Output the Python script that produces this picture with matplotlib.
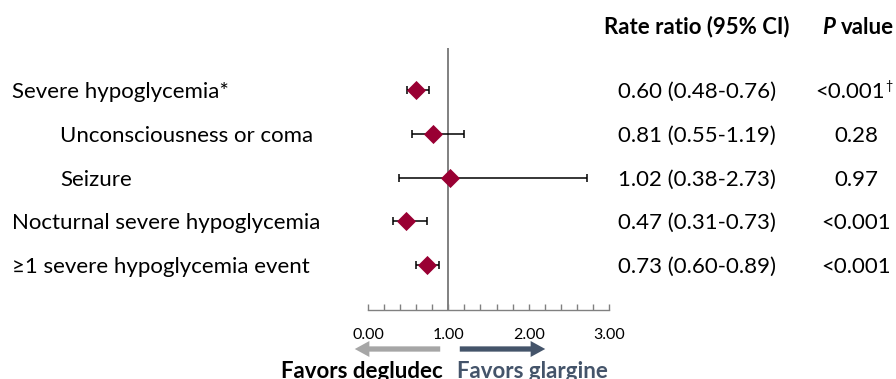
import matplotlib

matplotlib.use("Agg")
import matplotlib.pyplot as plt
from matplotlib import transforms
from matplotlib.ticker import MultipleLocator

outcomes = [
    "Severe hypoglycemia*",
    "Unconsciousness or coma",
    "Seizure",
    "Nocturnal severe hypoglycemia",
    "\u22651 severe hypoglycemia event",
]
indented = [False, True, True, False, False]
rate_ratio = [0.60, 0.81, 1.02, 0.47, 0.73]
ci_low = [0.48, 0.55, 0.38, 0.31, 0.60]
ci_high = [0.76, 1.19, 2.73, 0.73, 0.89]
p_values = ["<0.001", "0.28", "0.97", "<0.001", "<0.001"]
p_marks = ["\u2020", "", "", "", ""]
x_ticks = [0.0, 1.0, 2.0, 3.0]

W, H = 896, 379
FONT = "Lato"
plt.rcParams["font.family"] = [FONT, "DejaVu Sans"]

MARKER = "#990033"
GREY = "#a6a6a6"
SLATE = "#44546a"

fig = plt.figure(figsize=(W / 100, H / 100), dpi=100)


def fx(px):
    return px / W


def fy(py):
    return 1 - py / H


# plot panel: x from 0 to 3, rows spaced 44 px apart
left, right, top, bottom = 368, 609, 48, 310
ax = fig.add_axes([fx(left), fy(bottom), fx(right - left), (bottom - top) / H])
n = len(outcomes)
rows = list(range(n))
row_gap = 44
ax.set_ylim((bottom - 265) / row_gap + n - 1, -(90 - top) / row_gap)
ax.set_xlim(0, 3)

ax.axvline(1.0, color="#808080", lw=1.4, zorder=1)
ax.errorbar(rate_ratio, rows,
            xerr=[[r - lo for r, lo in zip(rate_ratio, ci_low)],
                  [hi - r for r, hi in zip(rate_ratio, ci_high)]],
            fmt="none", ecolor="black", elinewidth=1.1, capsize=3, capthick=1.1, zorder=2)
ax.scatter(rate_ratio, rows, marker="D", s=95, color=MARKER, zorder=3, linewidths=0)

for side in ("top", "right", "left"):
    ax.spines[side].set_visible(False)
ax.spines["bottom"].set_color("#808080")
ax.spines["bottom"].set_linewidth(1.0)
ax.set_yticks([])
ax.set_xticks(x_ticks)
ax.set_xticklabels([f"{t:.2f}" for t in x_ticks])
ax.xaxis.set_minor_locator(MultipleLocator(0.2))
ax.tick_params(axis="x", which="both", direction="in", length=4, width=1.0,
               color="#808080", labelsize=11.5, pad=13)

# text columns, x in figure pixels, y in row units
trans = transforms.blended_transform_factory(fig.transFigure, ax.transData)
fs = 16
for i, name in enumerate(outcomes):
    x0 = 60 if indented[i] else 12
    ax.text(fx(x0), i, name, transform=trans, ha="left", va="center_baseline",
            fontsize=fs, clip_on=False)
    ax.text(fx(697), i, f"{rate_ratio[i]:.2f} ({ci_low[i]:.2f}-{ci_high[i]:.2f})",
            transform=trans, ha="center", va="center_baseline", fontsize=fs, clip_on=False)
    if p_marks[i]:
        t = ax.text(fx(885), i, p_values[i], transform=trans, ha="right",
                    va="center_baseline", fontsize=fs, clip_on=False)
        ax.annotate(p_marks[i], xy=(1, 1), xycoords=t, xytext=(0.5, 1.5),
                    textcoords="offset points", ha="left", va="top", fontsize=9)
    else:
        ax.text(fx(856), i, p_values[i], transform=trans, ha="center",
                va="center_baseline", fontsize=fs, clip_on=False)

fig.text(fx(697), fy(25), "Rate ratio (95% CI)", ha="center", va="center_baseline",
         fontsize=fs, fontweight="bold")
fig.text(fx(822), fy(25), "P", ha="left", va="center_baseline", fontsize=fs,
         fontweight="bold", fontstyle="italic")
fig.text(fx(841), fy(25), "value", ha="left", va="center_baseline", fontsize=fs,
         fontweight="bold")

# direction arrows under the axis
arrow_style = "simple,head_length=1.05,head_width=1.15,tail_width=0.38"
fig.patches.append(matplotlib.patches.FancyArrowPatch(
    (fx(443), fy(349)), (fx(352), fy(349)), transform=fig.transFigure,
    arrowstyle=arrow_style, mutation_scale=10, color=GREY, lw=0))
fig.patches.append(matplotlib.patches.FancyArrowPatch(
    (fx(457), fy(349)), (fx(548), fy(349)), transform=fig.transFigure,
    arrowstyle=arrow_style, mutation_scale=10, color=SLATE, lw=0))
fig.text(fx(443), fy(369), "Favors degludec", ha="right", va="center_baseline",
         fontsize=fs, fontweight="bold", color="black")
fig.text(fx(457), fy(369), "Favors glargine", ha="left", va="center_baseline",
         fontsize=fs, fontweight="bold", color=SLATE)

fig.savefig("out.png", dpi=100)
